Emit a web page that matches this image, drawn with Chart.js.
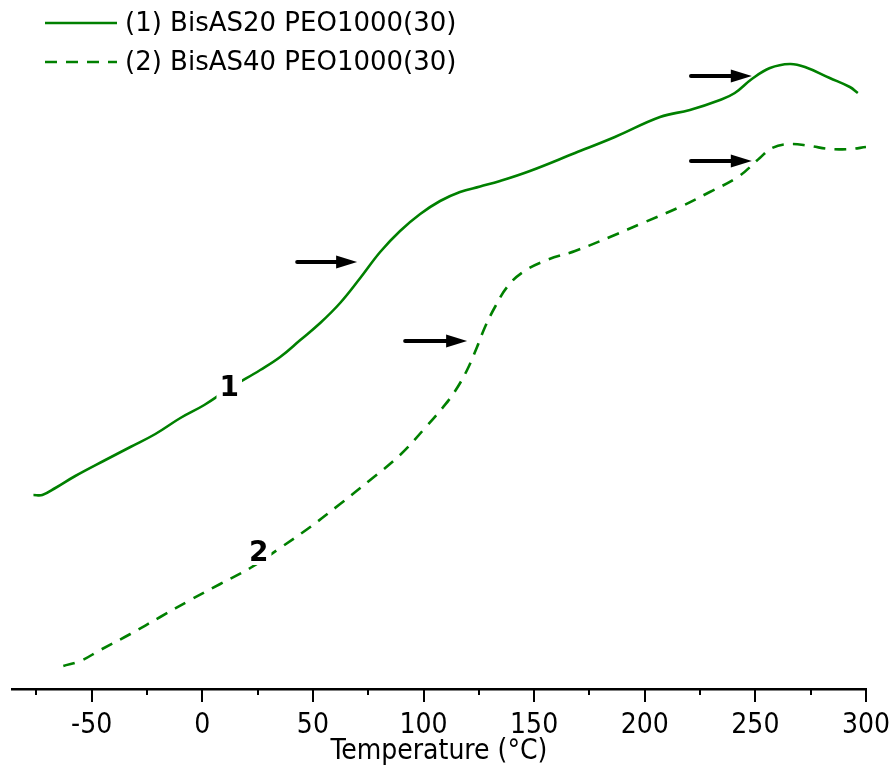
<!DOCTYPE html>
<html>
<head>
<meta charset="utf-8">
<script src="https://cdn.jsdelivr.net/npm/chart.js@4.4.1/dist/chart.umd.min.js"></script>
<style>
  html, body { margin: 0; padding: 0; background: #fff; }
  #wrap { width: 893px; height: 770px; }
</style>
</head>
<body>
<div id="wrap"><canvas id="dsc" width="893" height="770"></canvas></div>
<script>
// DSC heating traces (heat flow in arbitrary units, endo up)
const seriesLabels = ['(1) BisAS20 PEO1000(30)', '(2) BisAS40 PEO1000(30)'];

const temp1 = [-76.3, -72.3, -66.4, -57.4, -43.8, -32.5, -21.2, -9.9, 0.9, 12.6, 26.2, 35.2, 44.3, 53.3, 62.3, 71.4, 80.4, 89.4, 98.5, 107.5, 116.5, 125.6, 134.6, 148.1, 168.5, 186.5, 206.9, 220.4, 234.0, 240.7, 248.4, 256.6, 265.6, 272.4, 283.6, 292.7, 296.3];
const heat1 = [19.4, 19.4, 20.1, 21.3, 22.9, 24.2, 25.5, 27.1, 28.4, 30.1, 31.9, 33.2, 34.9, 36.6, 38.6, 41.1, 43.7, 45.8, 47.5, 48.8, 49.7, 50.25, 50.8, 51.8, 53.6, 55.2, 57.2, 57.9, 58.9, 59.6, 61.0, 62.1, 62.5, 62.2, 61.1, 60.2, 59.6];

const temp2 = [-62.8, -55.1, -46.1, -32.5, -19.0, -5.4, 8.1, 21.7, 35.2, 48.8, 62.3, 75.9, 89.4, 100.7, 108.9, 114.3, 119.7, 124.2, 127.8, 132.3, 137.8, 145.0, 155.8, 168.5, 184.3, 200.1, 215.9, 229.4, 242.1, 252.0, 257.5, 265.6, 274.6, 283.6, 292.7, 300.0];
const heat2 = [2.3, 2.8, 3.9, 5.5, 7.2, 8.9, 10.5, 12.1, 14.1, 16.2, 18.5, 20.9, 23.4, 26.1, 28.2, 29.8, 31.9, 34.2, 36.2, 38.2, 40.2, 41.7, 42.9, 43.8, 45.2, 46.7, 48.2, 49.7, 51.2, 53.1, 54.1, 54.5, 54.3, 54.0, 54.0, 54.2];

// temperature axis
const xTickValues = [-75, -50, -25, 0, 25, 50, 75, 100, 125, 150, 175, 200, 225, 250, 275, 300];

// curve numbers written next to the traces
const tagText = ['1', '2'];
const tagTemp = [12.2, 25.5];
const tagHeat = [30.1, 13.6];

// transition markers (arrows pointing right)
const arrowFromTemp = [42.9, 91.7, 220.9, 220.9];
const arrowToTemp   = [70.0, 119.7, 248.4, 248.4];
const arrowHeat     = [42.7, 34.8, 61.3, 52.8];

const GREEN = '#008000';
const toPoints = (xs, ys) => xs.map((x, i) => ({ x: x, y: ys[i] }));

const decorations = {
  id: 'decorations',
  afterDatasetsDraw(chart) {
    const ctx = chart.ctx;
    const xs = chart.scales.x, ys = chart.scales.y;
    ctx.save();

    // arrows
    ctx.fillStyle = '#000';
    ctx.strokeStyle = '#000';
    arrowHeat.forEach((h, i) => {
      const x0 = xs.getPixelForValue(arrowFromTemp[i]);
      const x1 = xs.getPixelForValue(arrowToTemp[i]);
      const y = ys.getPixelForValue(h);
      const headLen = 21, headHalf = 6.5;
      ctx.lineWidth = 4;
      ctx.lineCap = 'round';
      ctx.beginPath();
      ctx.moveTo(x0, y);
      ctx.lineTo(x1 - headLen + 2, y);
      ctx.stroke();
      ctx.beginPath();
      ctx.moveTo(x1, y);
      ctx.lineTo(x1 - headLen, y - headHalf);
      ctx.lineTo(x1 - headLen, y + headHalf);
      ctx.closePath();
      ctx.fill();
    });

    // curve numbers on a white patch
    ctx.font = 'bold 28px "DejaVu Sans"';
    ctx.textAlign = 'center';
    ctx.textBaseline = 'middle';
    tagText.forEach((t, i) => {
      const px = xs.getPixelForValue(tagTemp[i]);
      const py = ys.getPixelForValue(tagHeat[i]);
      const w = ctx.measureText(t).width;
      ctx.fillStyle = '#fff';
      ctx.fillRect(px - w / 2 - 3, py - 12, w + 6, 24);
      ctx.fillStyle = '#000';
      ctx.fillText(t, px, py + 1);
    });
    ctx.restore();
  },
  afterDraw(chart) {
    const ctx = chart.ctx;
    const xs = chart.scales.x;
    ctx.save();

    // tick marks below the axis line: long at labelled values, short in between
    ctx.strokeStyle = '#000';
    ctx.lineWidth = 2;
    ctx.beginPath();
    xTickValues.forEach(v => {
      const px = Math.round(xs.getPixelForValue(v));
      const len = v % 50 === 0 ? 13 : 6;
      ctx.moveTo(px, xs.top);
      ctx.lineTo(px, xs.top + len);
    });
    ctx.stroke();

    // legend
    chart.data.datasets.forEach((ds, i) => {
      const y = 23 + 39 * i;
      ctx.strokeStyle = ds.borderColor;
      ctx.lineWidth = 2.5;
      ctx.setLineDash(ds.borderDash || []);
      ctx.beginPath();
      ctx.moveTo(45, y);
      ctx.lineTo(117, y);
      ctx.stroke();
      ctx.setLineDash([]);
      ctx.fillStyle = '#000';
      ctx.font = '26px "DejaVu Sans"';
      ctx.textAlign = 'left';
      ctx.textBaseline = 'middle';
      ctx.fillText(ds.label, 125, y + 1);
    });
    ctx.restore();
  }
};

new Chart(document.getElementById('dsc'), {
  type: 'line',
  data: {
    datasets: [
      {
        label: seriesLabels[0],
        data: toPoints(temp1, heat1),
        borderColor: GREEN,
        borderWidth: 2.6,
        pointRadius: 0,
        fill: false,
        tension: 0.4
      },
      {
        label: seriesLabels[1],
        data: toPoints(temp2, heat2),
        borderColor: GREEN,
        borderWidth: 2.6,
        borderDash: [12, 9],
        pointRadius: 0,
        fill: false,
        tension: 0.4
      }
    ]
  },
  options: {
    responsive: false,
    devicePixelRatio: 1,
    animation: false,
    layout: { padding: { left: 12, right: 27, top: 0, bottom: 0 } },
    plugins: { legend: { display: false }, tooltip: { enabled: false } },
    scales: {
      x: {
        type: 'linear',
        min: -86,
        max: 300,
        border: { display: true, color: '#000', width: 2.5 },
        grid: { display: false, drawTicks: false },
        afterBuildTicks: s => { s.ticks = xTickValues.map(v => ({ value: v })); },
        afterFit: s => { s.height = 81; s.paddingLeft = 0; s.paddingRight = 0; },
        ticks: {
          autoSkip: false,
          maxRotation: 0,
          padding: 20,
          color: '#000',
          font: { family: '"DejaVu Sans Condensed"', size: 28 },
          callback: v => (v % 50 === 0 ? String(v) : '')
        },
        title: {
          display: true,
          text: 'Temperature (°C)',
          color: '#000',
          font: { family: '"DejaVu Sans Condensed"', size: 28 },
          padding: { top: 0, bottom: 1 }
        }
      },
      y: { display: false, min: 0, max: 68.9 }
    }
  },
  plugins: [decorations]
});
</script>
</body>
</html>
